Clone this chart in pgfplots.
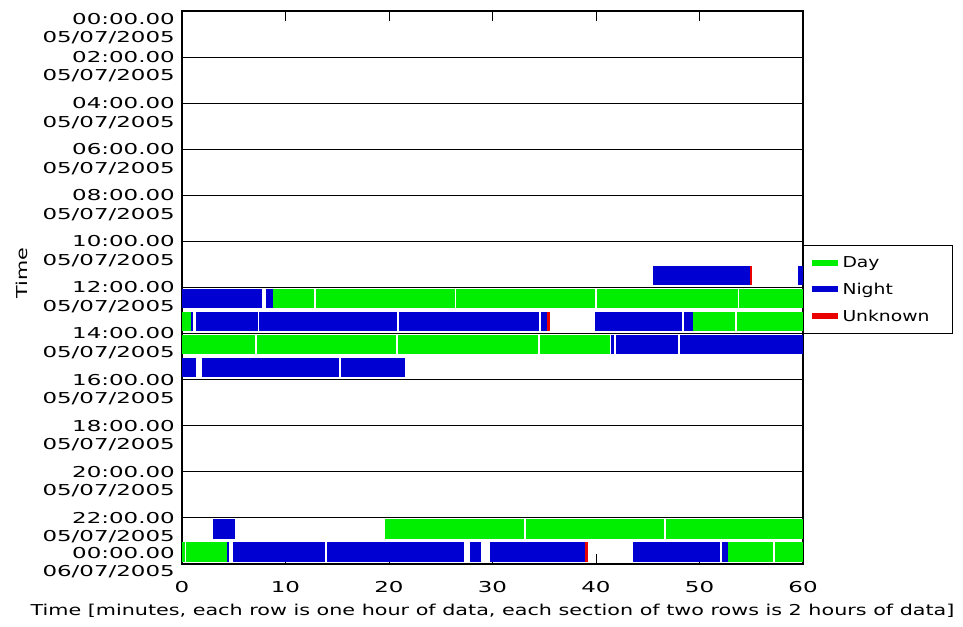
\documentclass[border=0pt]{standalone}
\usepackage{fontspec}
\setmainfont{DejaVu Sans}[FakeStretch=1.38]
\newfontfamily\tickfont{DejaVu Sans}[FakeStretch=1.53]
\newfontfamily\legfont{DejaVu Sans}[FakeStretch=1.25]
\usepackage{pgfplots}
\pgfplotsset{compat=1.18}
\definecolor{day}{RGB}{0,238,0}
\definecolor{night}{RGB}{0,0,210}
\definecolor{unk}{RGB}{235,0,0}
% two-line time labels
\newcommand\lab[2]{\begin{tabular}{@{}r@{}}#1\\#2\end{tabular}}
\newcommand\labT[2]{\raisebox{-8bp}{\lab{#1}{#2}}}
\newcommand\labB[2]{\raisebox{11bp}{\lab{#1}{#2}}}
\begin{document}
\begin{tikzpicture}
\begin{axis}[
    at={(182bp,63bp)}, anchor=south west,
    scale only axis, width=621bp, height=553bp,
    xmin=0, xmax=60, ymin=0, ymax=24,
    xtick={0,10,...,60}, xticklabels={0,10,20,30,40,50,60},
    tick align=inside, major tick length=10bp,
    xtick style={black, line width=1bp},
    ytick={0,2,...,24},
    yticklabels={{\labB{00:00.00}{06/07/2005}},{\lab{22:00.00}{05/07/2005}},{\lab{20:00.00}{05/07/2005}},
      {\lab{18:00.00}{05/07/2005}},{\lab{16:00.00}{05/07/2005}},{\lab{14:00.00}{05/07/2005}},
      {\lab{12:00.00}{05/07/2005}},{\lab{10:00.00}{05/07/2005}},{\lab{08:00.00}{05/07/2005}},
      {\lab{06:00.00}{05/07/2005}},{\lab{04:00.00}{05/07/2005}},{\lab{02:00.00}{05/07/2005}},
      {\labT{00:00.00}{05/07/2005}}},
    ytick style={draw=none},
    ymajorgrids, grid style={black, line width=1.1bp},
    axis line style={black, line width=1.1bp},
    /pgf/number format/assume math mode=true,
    ticklabel style={font=\tickfont\fontsize{15bp}{18.5bp}\selectfont},
    yticklabel style={anchor=base east, inner sep=0pt, xshift=-7bp, yshift=-14.5bp},
    xticklabel style={anchor=north, inner sep=0pt, yshift=-17bp},
    label style={font=\fontsize{15bp}{18.5bp}\selectfont},
    xlabel={Time [minutes, each row is one hour of data, each section of two rows is 2 hours of data]},
    xlabel style={at={(axis description cs:0.5,-0.085)}, anchor=center},
    ylabel={Time},
    ylabel style={at={(axis description cs:-0.258,0.526)}, anchor=center},
    unbounded coords=jump,
    legend style={at={(1,0.577)}, anchor=north west, draw=black, line width=1bp,
      font=\legfont\fontsize{15bp}{18.5bp}\selectfont, inner xsep=5bp, inner ysep=9bp,
      row sep=10bp},
    legend cell align=left,
    legend image code/.code={\draw[#1, line width=6bp] (0bp,0bp) -- (26bp,0bp);},
]
% rows: y = 24 - hour - 0.48
\addplot[day, line width=19.6bp] coordinates {
    (8.8,11.52) (12.8,11.52) (0,nan) (12.95,11.52) (26.35,11.52) (0,nan)
    (26.5,11.52) (39.9,11.52) (0,nan) (40.1,11.52) (53.7,11.52) (0,nan)
    (53.85,11.52) (60,11.52) (0,nan)
    (0,10.52) (0.9,10.52) (0,nan) (49.4,10.52) (53.4,10.52) (0,nan)
    (53.6,10.52) (60,10.52) (0,nan)
    (0,9.52) (7.05,9.52) (0,nan) (7.2,9.52) (20.7,9.52) (0,nan)
    (20.85,9.52) (34.4,9.52) (0,nan) (34.55,9.52) (41.4,9.52) (0,nan)
    (19.6,1.52) (33.0,1.52) (0,nan) (33.2,1.52) (46.6,1.52) (0,nan)
    (46.8,1.52) (60,1.52) (0,nan)
    (0,0.52) (0.25,0.52) (0,nan) (0.4,0.52) (4.3,0.52) (0,nan)
    (52.8,0.52) (57.1,0.52) (0,nan) (57.3,0.52) (60,0.52)
};
\addlegendentry{Day}
\addplot[night, line width=19.6bp] coordinates {
    (45.5,12.52) (54.9,12.52) (0,nan) (59.5,12.52) (60,12.52) (0,nan)
    (0,11.52) (7.75,11.52) (0,nan) (8.1,11.52) (8.8,11.52) (0,nan)
    (0.9,10.52) (1.1,10.52) (0,nan) (1.35,10.52) (7.3,10.52) (0,nan)
    (7.45,10.52) (20.8,10.52) (0,nan) (21.0,10.52) (34.5,10.52) (0,nan)
    (34.65,10.52) (35.3,10.52) (0,nan) (39.9,10.52) (48.3,10.52) (0,nan)
    (48.5,10.52) (49.4,10.52) (0,nan)
    (41.45,9.52) (41.75,9.52) (0,nan) (41.9,9.52) (47.9,9.52) (0,nan)
    (48.1,9.52) (60,9.52) (0,nan)
    (0,8.52) (1.4,8.52) (0,nan) (1.9,8.52) (15.2,8.52) (0,nan)
    (15.35,8.52) (21.5,8.52) (0,nan)
    (3.0,1.52) (5.1,1.52) (0,nan)
    (4.3,0.52) (4.55,0.52) (0,nan) (4.9,0.52) (13.8,0.52) (0,nan)
    (14.0,0.52) (27.2,0.52) (0,nan) (27.8,0.52) (28.9,0.52) (0,nan)
    (29.8,0.52) (38.9,0.52) (0,nan) (43.6,0.52) (52.0,0.52) (0,nan)
    (52.2,0.52) (52.8,0.52)
};
\addlegendentry{Night}
\addplot[unk, line width=19.6bp] coordinates {
    (54.9,12.52) (55.05,12.52) (0,nan)
    (35.3,10.52) (35.6,10.52) (0,nan)
    (38.9,0.52) (39.2,0.52)
};
\addlegendentry{Unknown\rule{16bp}{0pt}}
\end{axis}
\pgfresetboundingbox
\path[use as bounding box] (0,0) rectangle (963bp,627bp);
\end{tikzpicture}
\end{document}
